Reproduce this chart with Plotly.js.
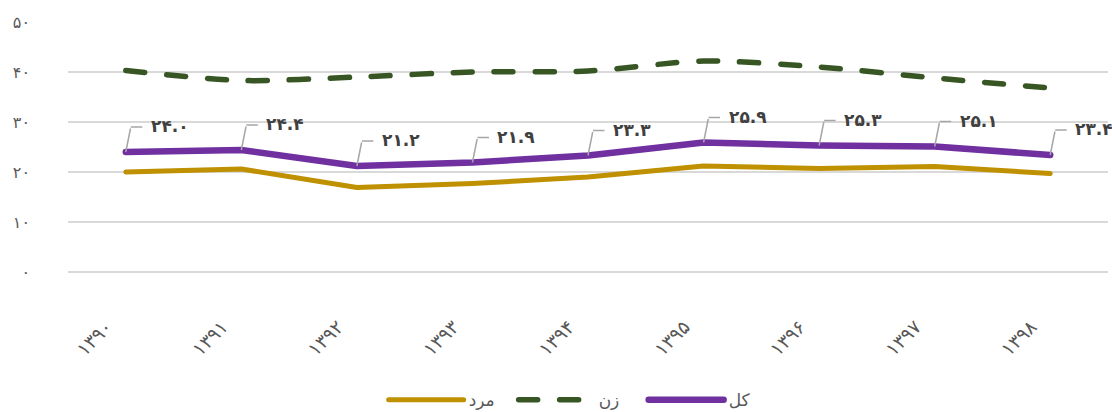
<!DOCTYPE html>
<html>
<head>
<meta charset="utf-8">
<script src="https://cdn.plot.ly/plotly-3.0.1.min.js"></script>
<style>
html,body{margin:0;padding:0;background:#fff;}
#chart{width:1112px;height:412px;}
.scatterlayer .js-line,.legendlines path{stroke-linecap:round;stroke-linejoin:round;}
</style>
</head>
<body>
<div id="chart"></div>
<script>
// ---- data ----
const years = ['۱۳۹۰','۱۳۹۱','۱۳۹۲','۱۳۹۳','۱۳۹۴','۱۳۹۵','۱۳۹۶','۱۳۹۷','۱۳۹۸'];
const male   = [20.0, 20.6, 16.9, 17.7, 19.0, 21.2, 20.7, 21.1, 19.7];
const female = [40.3, 38.3, 39.0, 40.0, 40.2, 42.2, 41.0, 38.8, 36.8];
const total  = [24.0, 24.4, 21.2, 21.9, 23.3, 25.9, 25.3, 25.1, 23.4];
const seriesNames = ['مرد', 'زن', 'کل'];
const yTickVals = [0, 10, 20, 30, 40, 50];

const faDigits = '۰۱۲۳۴۵۶۷۸۹';
function toFa(s){ return String(s).replace(/[0-9]/g, d => faDigits[+d]); }

const FONT = 'DejaVu Sans, sans-serif';
const traces = [
  {x: years, y: male, name: seriesNames[0], type: 'scatter', mode: 'lines',
   line: {color: '#BF9000', width: 5}},
  {x: years, y: female, name: seriesNames[1], type: 'scatter', mode: 'lines',
   line: {color: '#375623', width: 5.5, dash: '19px,22px', shape: 'spline', smoothing: 0.8}},
  {x: years, y: total, name: seriesNames[2], type: 'scatter', mode: 'lines',
   line: {color: '#7030A0', width: 6.5}}
];

const annotations = [];
years.forEach((yr, i) => {
  annotations.push({x: yr, y: total[i], xref: 'x', yref: 'y', text: '', showarrow: true,
    arrowhead: 0, arrowwidth: 1.5, arrowcolor: '#a6a6a6', ax: 5, ay: -25, standoff: 0});
  annotations.push({x: yr, y: total[i], xref: 'x', yref: 'y', text: '', showarrow: true,
    arrowhead: 0, arrowwidth: 1.5, arrowcolor: '#a6a6a6', ax: 13, ay: 0, xshift: 5, yshift: 25, standoff: 0});
  annotations.push({x: yr, y: total[i], xref: 'x', yref: 'y', text: '<b>' + toFa(total[i].toFixed(1)) + '</b>',
    showarrow: false, xanchor: 'left', yanchor: 'middle', xshift: 23, yshift: 26,
    font: {family: FONT, size: 17, color: '#404040'}});
});

const layout = {
  width: 1112, height: 412,
  margin: {l: 68, r: 4, t: 21, b: 139, autoexpand: false},
  paper_bgcolor: '#fff', plot_bgcolor: '#fff',
  font: {family: FONT, color: '#595959'},
  showlegend: true,
  legend: {orientation: 'h', x: 0.491, xanchor: 'center', y: -0.505, yanchor: 'middle',
           itemwidth: 75, entrywidth: 40, entrywidthmode: 'pixels',
           font: {family: FONT, size: 17, color: '#595959'}, traceorder: 'normal'},
  xaxis: {type: 'category', range: [-0.5, 8.5], showgrid: false, zeroline: false, showline: false,
          ticks: '', tickangle: -45, tickfont: {family: FONT, size: 19, color: '#595959'},
          ticklabelstandoff: 38, ticklabelshift: -19},
  yaxis: {range: [-0.2, 50.2], tickvals: yTickVals, ticktext: yTickVals.map(toFa),
          showgrid: true, gridcolor: '#d9d9d9', gridwidth: 1.5,
          zeroline: true, zerolinecolor: '#d9d9d9', zerolinewidth: 1.5, showline: false,
          ticks: '', tickfont: {family: FONT, size: 16, color: '#595959'}, ticklabelstandoff: 37},
  annotations: annotations
};

Plotly.newPlot('chart', traces, layout, {displayModeBar: false, staticPlot: true});
</script>
</body>
</html>
